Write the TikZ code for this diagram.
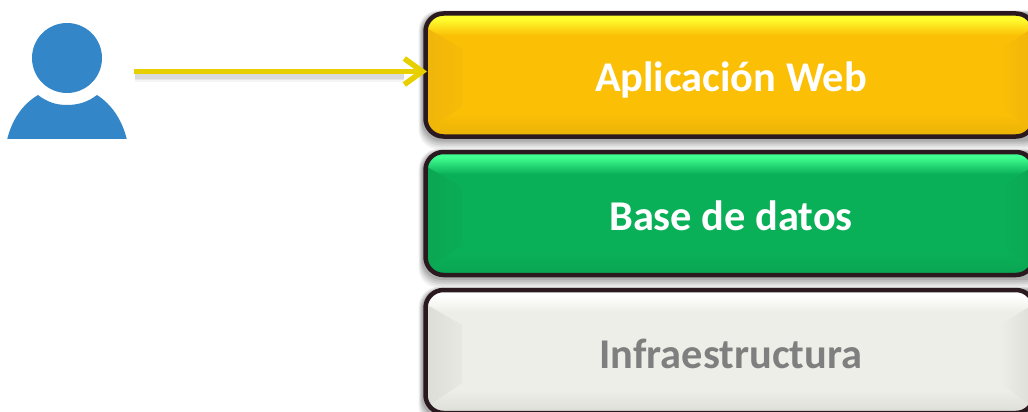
\documentclass[tikz,border=0pt]{standalone}
\usepackage{fontspec}
\setmainfont{Carlito}
\usetikzlibrary{arrows.meta}
\definecolor{userblue}{HTML}{3386C8}
\definecolor{arrowyellow}{HTML}{E8D000}
\definecolor{edgedark}{HTML}{2A1A20}
\definecolor{ybase}{HTML}{FBBF06}\definecolor{yhi}{HTML}{FFFF30}\definecolor{yside}{HTML}{EFB50A}
\definecolor{gbase}{HTML}{0AB058}\definecolor{ghi}{HTML}{40FF90}\definecolor{gside}{HTML}{0BA652}
\definecolor{wbase}{HTML}{EEEEE8}\definecolor{whi}{HTML}{FFFFFF}\definecolor{wside}{HTML}{DDDDD8}
\definecolor{greytext}{HTML}{7F7F7F}
\tikzset{
  x=1pt,y=-1pt,
  panel/.style={rounded corners=18pt,draw=edgedark,line width=4.5pt,fill=none,minimum width=608.5pt,minimum height=123pt,anchor=north west,inner sep=0pt,outer sep=0pt},
  paneltext/.style={font=\bfseries\fontsize{42.4}{42.4}\selectfont,inner sep=0pt,anchor=base},
  connector/.style={arrowyellow,line width=5.5pt,-{Straight Barb[length=18pt,width=26pt,line width=5.5pt]}},
}
\newcommand{\panelbox}[5]{% name, top of centre line, base, hi, side
  \foreach \d/\o in {11/0.05,9/0.06,7/0.07,5/0.08,3/0.10}{
    \fill[black,opacity=\o,rounded corners=20pt] (423-\d*0.4,#2-0.3*\d) rectangle (1045,#2+125+\d);
  }
  \begin{scope}
    \clip[rounded corners=18pt] (425.5,#2) rectangle (1034,#2+123);
    \fill[#3] (425.5,#2) rectangle (1034,#2+123);
    \fill[#4] (425.5,#2) rectangle (1034,#2+5);
    \shade[top color=#4,bottom color=#3] (425.5,#2+5) rectangle (1034,#2+22);
    \shade[top color=#3,bottom color=#3!93!black] (425.5,#2+100) rectangle (1034,#2+123);
    \shade[left color=#5,right color=#5!35!#3] (425.5,#2+14) -- (462,#2+35) -- (462,#2+93) -- (425.5,#2+118) -- cycle;
    \shade[left color=#3,right color=#5] (1000,#2+35) -- (1034,#2+14) -- (1034,#2+118) -- (1000,#2+93) -- cycle;
  \end{scope}
  \node[panel] (#1) at (425.5,#2) {};
}
\begin{document}
\begin{tikzpicture}
\useasboundingbox (0,0) rectangle (1028,412);
\fill[white] (0,0) rectangle (1028,412);
% user figure
\fill[userblue] (67,58) circle (35pt);
\begin{scope}
  \clip (0,0) rectangle (1028,138.5);
  \fill[userblue] (7,140) .. controls (12,119) and (23,104) .. (38,95)
     .. controls (47,102) and (56,105) .. (67,105) .. controls (78,105) and (88,102) .. (97,95)
     .. controls (111,104) and (122,119) .. (127,140) -- cycle;
\end{scope}
\node[minimum width=120pt,minimum height=116pt,inner sep=0pt] (user) at (67,81) {};
% panels
\panelbox{app}{13.5}{ybase}{yhi}{yside}
\panelbox{db}{152}{gbase}{ghi}{gside}
\panelbox{infra}{290}{wbase}{whi}{wside}
\node[paneltext,text=white] (applabel) at (731,92) {Aplicación Web};
\node[paneltext,text=white] (dblabel) at (731,230) {Base de datos};
\node[paneltext,text=greytext] (infralabel) at (731,368) {Infraestructura};
% connector
\coordinate (start) at (134,71.5);
\coordinate (end) at (427,71.5);
\foreach \w/\o in {9/0.04,7/0.05,5/0.06}{
  \draw[black,opacity=\o,line width=\w pt] (135,77) -- (404,77);
}
\draw[connector] (start) -- (end);
\end{tikzpicture}
\end{document}
